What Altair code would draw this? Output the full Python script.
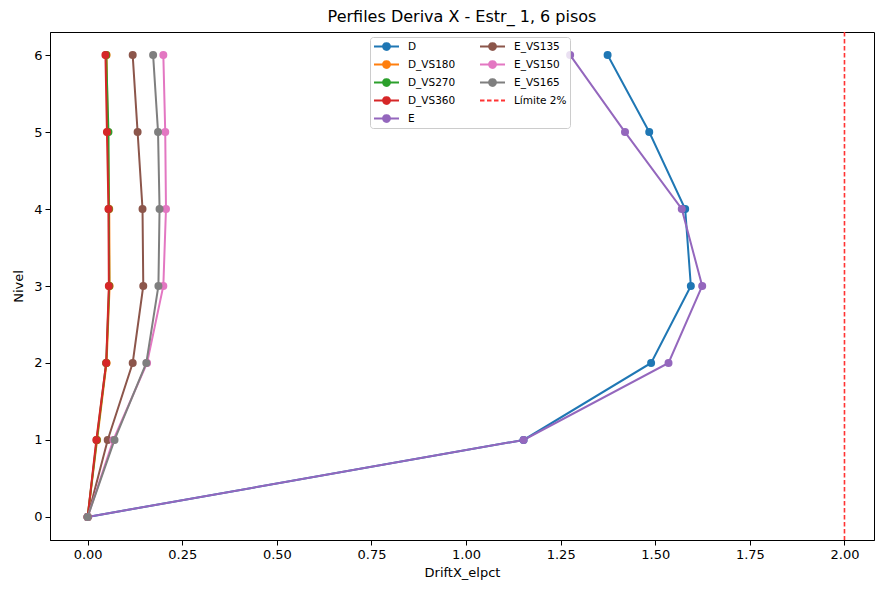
import altair as alt
import pandas as pd

# ---------------- data ----------------
niveles = [0, 1, 2, 3, 4, 5, 6]

serie_D = [0.0, 1.152, 1.489, 1.594, 1.579, 1.484, 1.374]
serie_D_VS180 = [0.0, 0.025, 0.050, 0.058, 0.057, 0.053, 0.050]
serie_D_VS270 = [0.0, 0.024, 0.049, 0.057, 0.056, 0.055, 0.049]
serie_D_VS360 = [0.0, 0.023, 0.049, 0.056, 0.055, 0.051, 0.047]
serie_E = [0.0, 1.152, 1.535, 1.624, 1.570, 1.420, 1.275]
serie_E_VS135 = [0.0, 0.053, 0.119, 0.147, 0.145, 0.132, 0.119]
serie_E_VS150 = [0.0, 0.068, 0.157, 0.200, 0.207, 0.205, 0.200]
serie_E_VS165 = [0.0, 0.071, 0.155, 0.187, 0.190, 0.186, 0.173]

series_names = ["D", "D_VS180", "D_VS270", "D_VS360", "E", "E_VS135", "E_VS150", "E_VS165"]
series_values = [serie_D, serie_D_VS180, serie_D_VS270, serie_D_VS360,
                 serie_E, serie_E_VS135, serie_E_VS150, serie_E_VS165]
series_colors = ["#1f77b4", "#ff7f0e", "#2ca02c", "#d62728",
                 "#9467bd", "#8c564b", "#e377c2", "#7f7f7f"]

limite_label = "Límite 2%"
limite_value = [2.0]
limite_color = "#ff3333"

x_ticks = [0.0, 0.25, 0.5, 0.75, 1.0, 1.25, 1.5, 1.75, 2.0]
y_ticks = [0, 1, 2, 3, 4, 5, 6]

# ---------------- tables ----------------
rows = []
for order_i, (name, vals) in enumerate(zip(series_names, series_values)):
    for n, v in zip(niveles, vals):
        rows.append({"serie": name, "nivel": n, "drift": v, "orden": order_i})
df = pd.DataFrame(rows)
lim_df = pd.DataFrame({"serie": [limite_label] * len(limite_value), "drift": limite_value})

legend_order = series_names + [limite_label]
legend_colors = series_colors + [limite_color]

FONT = "DejaVu Sans"

sym_line_dot = "M-1,0H1M-0.27,0A0.27,0.27,0,1,0,0.27,0A0.27,0.27,0,1,0,-0.27,0Z"
sym_line = "M-1,0H1"

color_enc = alt.Color(
    "serie:N",
    scale=alt.Scale(domain=legend_order, range=legend_colors),
    legend=alt.Legend(
        title=None,
        orient="none",
        legendX=320,
        legendY=5,
        columns=2,
        columnPadding=23,
        rowPadding=5,
        clipHeight=13,
        padding=3,
        labelFont=FONT,
        labelFontSize=10.5,
        labelColor="black",
        labelOffset=8,
        symbolSize=625,
        symbolStrokeWidth=2,
        symbolType={"expr": f"datum.value === '{limite_label}' ? '{sym_line}' : '{sym_line_dot}'"},
        symbolDash={"expr": f"datum.value === '{limite_label}' ? [4.5, 2.5] : [1, 0]"},
        symbolFillColor={"expr": "scale('color', datum.value)"},
        symbolStrokeColor={"expr": "scale('color', datum.value)"},
        symbolOpacity=1,
        strokeColor="#cccccc",
        fillColor="rgba(255,255,255,0.8)",
        cornerRadius=3,
    ),
)

x_enc = alt.X(
    "drift:Q",
    title="DriftX_elpct",
    scale=alt.Scale(domain=[-0.0995, 2.078], nice=False, zero=False),
    axis=alt.Axis(values=x_ticks, format=".2f"),
)
y_enc = alt.Y(
    "nivel:Q",
    title="Nivel",
    scale=alt.Scale(domain=[-0.3, 6.3], nice=False, zero=False),
    axis=alt.Axis(values=y_ticks, format="d"),
)

base = alt.Chart(df)
lines = base.mark_line(strokeWidth=2).encode(
    x=x_enc, y=y_enc, color=color_enc, order=alt.Order("nivel:Q"),
    detail="serie:N",
)
points = base.mark_point(filled=True, size=64, opacity=1).encode(
    x=x_enc, y=y_enc, color=color_enc,
)
rule = alt.Chart(lim_df).mark_rule(strokeWidth=1.6, strokeDash=[4.5, 2.5]).encode(
    x=alt.X("drift:Q"),
    color=color_enc,
)

chart = (
    alt.layer(lines, points, rule)
    .properties(
        width=824,
        height=508,
        title=alt.TitleParams(
            "Perfiles Deriva X - Estr_ 1, 6 pisos",
            font=FONT, fontSize=16, fontWeight="normal", color="black",
            anchor="middle", offset=6,
        ),
        autosize=alt.AutoSizeParams(type="none"),
        padding={"left": 42, "top": 24, "right": 1, "bottom": 41},
    )
    .configure_view(stroke="black", strokeWidth=1)
    .configure_axis(
        grid=False,
        labelFont=FONT,
        labelFontSize=13,
        labelColor="black",
        titleFont=FONT,
        titleFontSize=13,
        titleFontWeight="normal",
        titleColor="black",
        domainColor="black",
        tickColor="black",
        tickSize=5,
        labelPadding=3,
    )
    .configure_axisX(titlePadding=5)
    .configure_axisY(titlePadding=8)
)

chart.save("out.html", embed_options={"renderer": "svg", "actions": False})
